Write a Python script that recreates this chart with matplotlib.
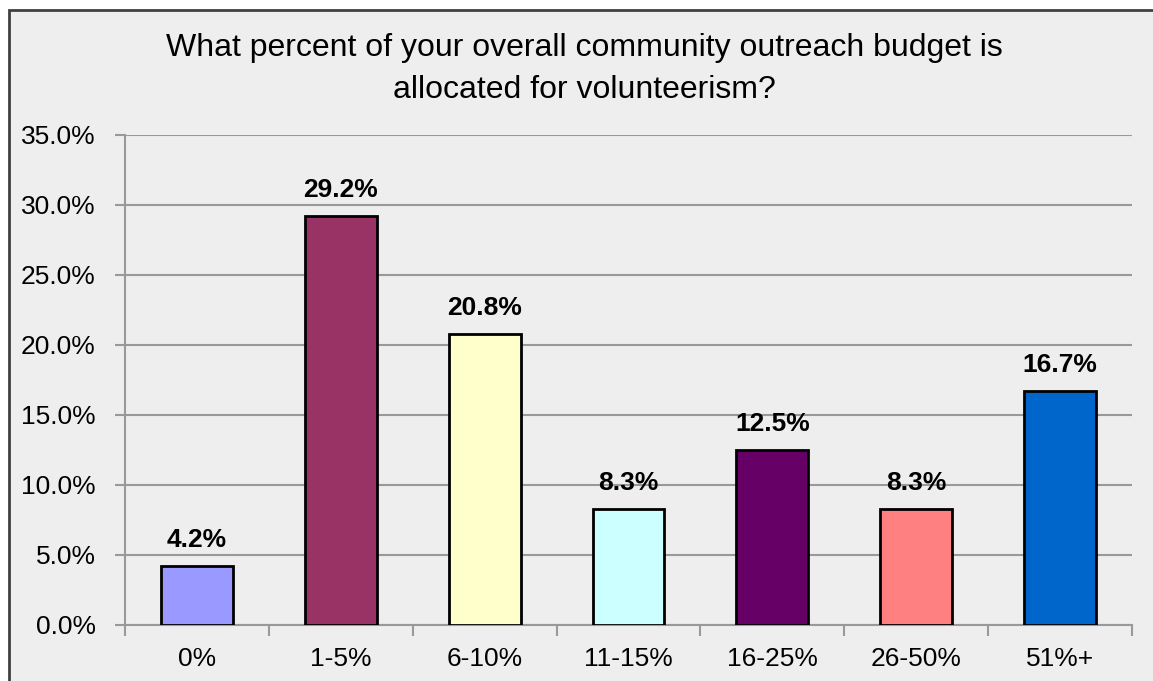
import matplotlib.pyplot as plt
from matplotlib.patches import Rectangle
from matplotlib.ticker import FixedLocator, FuncFormatter

categories = ['0%', '1-5%', '6-10%', '11-15%', '16-25%', '26-50%', '51%+']
values = [4.2, 29.2, 20.8, 8.3, 12.5, 8.3, 16.7]
colors = ['#9999FF', '#993366', '#FFFFCC', '#CCFFFF', '#660066', '#FF8080', '#0066CC']
title = 'What percent of your overall community outreach budget is\nallocated for volunteerism?'

plt.rcParams['font.family'] = ['Liberation Sans', 'DejaVu Sans']

fig = plt.figure(figsize=(11.53, 6.81), dpi=100)
fig.patch.set_facecolor('white')

# gray chart background with dark border
W, H = 1153, 681
fig.patches.append(Rectangle((8.5 / W, -0.1), 1.2, (H - 9.5) / H + 0.1,
                             transform=fig.transFigure, facecolor='#EEEEEE',
                             edgecolor='#404040', linewidth=2, zorder=-5))

ax = fig.add_axes([125 / W, (H - 625) / H, (1132 - 125) / W, (625 - 135) / H])
ax.set_zorder(2)
ax.set_facecolor('none')

x = list(range(len(categories)))
ax.bar(x, values, width=0.5, color=colors, edgecolor='black', linewidth=2, zorder=3)

for xi, v in zip(x, values):
    ax.annotate(f'{v:.1f}%', (xi, v), xytext=(0, 10), textcoords='offset points',
                ha='center', va='bottom', fontsize=19, fontweight='bold')

ax.set_xlim(-0.5, len(categories) - 0.5)
ax.set_ylim(0, 35)
ax.set_yticks([0, 5, 10, 15, 20, 25, 30, 35])
ax.yaxis.set_major_formatter(FuncFormatter(lambda v, p: f'{v:.1f}%'))
ax.yaxis.grid(True, color='#999999', linewidth=1.5, zorder=0)
ax.set_axisbelow(True)

ax.set_xticks(x)
ax.set_xticklabels(categories)
ax.xaxis.set_minor_locator(FixedLocator([i - 0.5 for i in range(len(categories) + 1)]))
ax.tick_params(axis='x', which='major', length=0, pad=16, labelsize=19)
ax.tick_params(axis='x', which='minor', length=8, width=1.5, color='#999999')
ax.tick_params(axis='y', length=7, width=1.5, color='#999999', pad=14, labelsize=19)

for s in ['top', 'right']:
    ax.spines[s].set_visible(False)
for s in ['left', 'bottom']:
    ax.spines[s].set_color('#999999')
    ax.spines[s].set_linewidth(1.5)

fig.text(584 / W, 1 - 69 / H, title, ha='center', va='center', fontsize=23,
         linespacing=1.55)

fig.savefig('out.png', dpi=100)
